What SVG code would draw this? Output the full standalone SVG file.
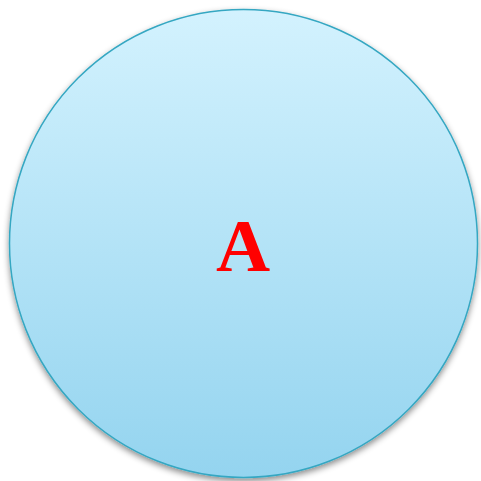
<svg xmlns="http://www.w3.org/2000/svg" width="481" height="481" viewBox="0 0 481 481">
<defs>
<linearGradient id="g" x1="0" y1="0" x2="0" y2="1">
<stop offset="0" stop-color="#d3f2fe"/>
<stop offset="1" stop-color="#94d4ef"/>
</linearGradient>
<filter id="sh" x="-10%" y="-10%" width="120%" height="125%">
<feDropShadow dx="0" dy="3" stdDeviation="3" flood-color="#000" flood-opacity="0.45"/>
</filter>
<style>
.node{fill:url(#g);stroke:#35a7c2;stroke-width:1.5}
.lbl{font-family:"Liberation Serif",serif;font-weight:bold;font-size:75px;fill:#ff0000;text-anchor:middle}
</style>
</defs>
<g id="connectors"></g>
<g id="nodeA">
<circle class="node" cx="243.5" cy="243.5" r="234" filter="url(#sh)"/>
<text class="lbl" x="243" y="271">A</text>
</g>
</svg>
